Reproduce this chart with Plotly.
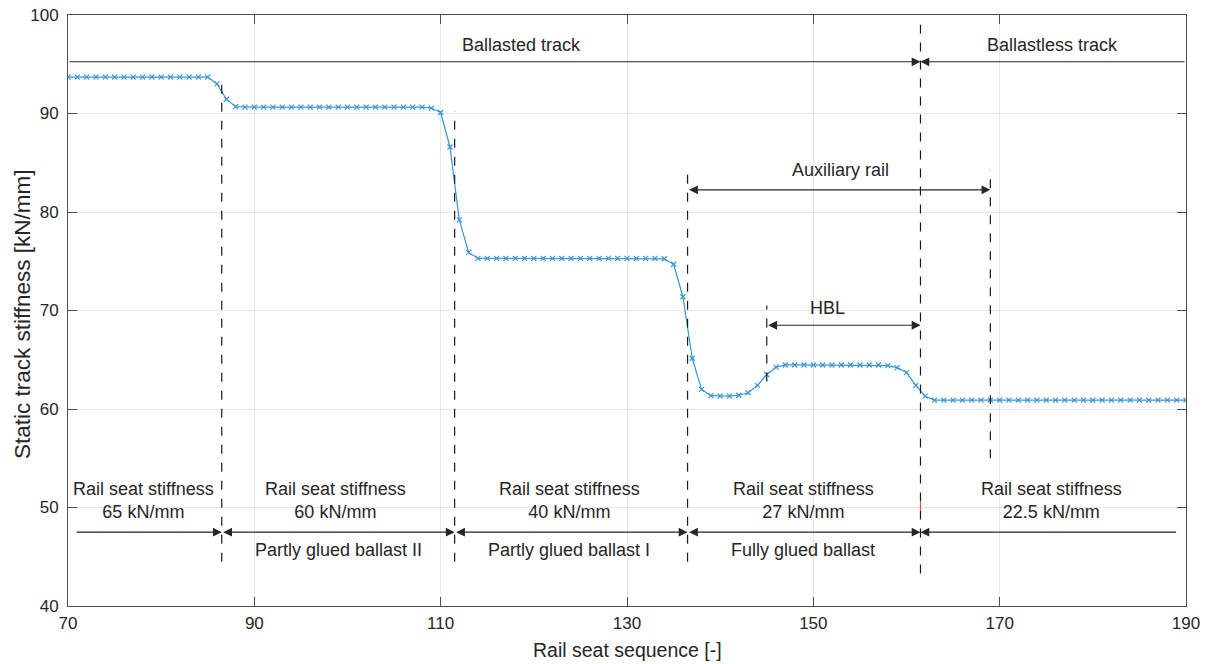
import plotly.graph_objects as go

# ---------------- data ----------------
rail_seat = list(range(70, 191))
stiffness = [
    93.7, 93.7, 93.7, 93.7, 93.7, 93.7, 93.7, 93.7, 93.7, 93.7, 93.7, 93.7, 93.7, 93.7, 93.7, 93.7,  # 70-85
    93.0, 91.45, 90.7,                                                                              # 86-88
    90.65, 90.65, 90.65, 90.65, 90.65, 90.65, 90.65, 90.65, 90.65, 90.65,                           # 89-98
    90.65, 90.65, 90.65, 90.65, 90.65, 90.65, 90.65, 90.65, 90.65, 90.65,                           # 99-108
    90.55, 90.1, 86.6, 79.2, 75.9,                                                                  # 109-113
    75.3, 75.3, 75.3, 75.3, 75.3, 75.3, 75.3, 75.3, 75.3, 75.3,                                     # 114-123
    75.3, 75.3, 75.3, 75.3, 75.3, 75.3, 75.3, 75.3, 75.3, 75.3, 75.25,                              # 124-134
    74.7, 71.4, 65.15, 62.0, 61.35, 61.3, 61.3, 61.4, 61.65, 62.4, 63.5, 64.25,                     # 135-146
    64.47, 64.47, 64.47, 64.47, 64.47, 64.47, 64.47, 64.47, 64.47, 64.47, 64.47,                    # 147-157
    64.4, 64.2, 63.7, 62.4, 61.3,                                                                   # 158-162
    60.9, 60.9, 60.9, 60.9, 60.9, 60.9, 60.9, 60.9, 60.9, 60.9,                                     # 163-172
    60.9, 60.9, 60.9, 60.9, 60.9, 60.9, 60.9, 60.9, 60.9, 60.9,                                     # 173-182
    60.9, 60.9, 60.9, 60.9, 60.9, 60.9, 60.9, 60.9,                                                 # 183-190
]

x_ticks = [70, 90, 110, 130, 150, 170, 190]
y_ticks = [40, 50, 60, 70, 80, 90, 100]

# section boundaries (dashed lines): x, y_bottom, y_top
boundary_x = [86.5, 111.5, 136.5, 161.5, 145, 169]
boundary_y0 = [44.5, 44.5, 44.5, 43.3, 62.8, 55.0]
boundary_y1 = [93.5, 90.2, 84.3, 99.0, 70.5, 84.3]

stiff_labels = ["Rail seat stiffness<br>65 kN/mm", "Rail seat stiffness<br>60 kN/mm",
                "Rail seat stiffness<br>40 kN/mm", "Rail seat stiffness<br>27 kN/mm",
                "Rail seat stiffness<br>22.5 kN/mm"]
stiff_label_x = [78.1, 98.7, 123.8, 148.9, 175.6]

ballast_labels = ["Partly glued ballast II", "Partly glued ballast I", "Fully glued ballast"]
ballast_label_x = [99.0, 123.8, 148.9]

BLUE = "#3a96d6"
TXT = "#262626"
FONT = "Arial, Liberation Sans, sans-serif"

fig = go.Figure()
fig.add_trace(go.Scatter(
    x=rail_seat, y=stiffness, mode="lines+markers",
    line=dict(color=BLUE, width=1.2),
    marker=dict(symbol="x-thin", size=5, line=dict(width=1.2, color=BLUE)),
    showlegend=False, hoverinfo="skip",
))

shapes = []
for bx, b0, b1 in zip(boundary_x, boundary_y0, boundary_y1):
    shapes.append(dict(type="line", xref="x", yref="y", x0=bx, x1=bx, y0=b0, y1=b1,
                       line=dict(color="#1a1a1a", width=1.2, dash="dash")))
# tiny red mark
shapes.append(dict(type="line", xref="x", yref="y", x0=161.5, x1=161.5, y0=49.7, y1=50.6,
                   line=dict(color="#e8542a", width=1.2)))

ann = []

def arrow(x_head, y_head, x_tail, y_tail, both=False):
    ann.append(dict(x=x_head, y=y_head, ax=x_tail, ay=y_tail, xref="x", yref="y",
                    axref="x", ayref="y", text="", showarrow=True,
                    arrowhead=2, startarrowhead=2, arrowsize=1.6, startarrowsize=1.6,
                    arrowwidth=1.1, arrowcolor="#262626",
                    arrowside="end+start" if both else "end",
                    standoff=0, startstandoff=0))

# top track-type arrows
arrow(161.5, 95.25, 70.0, 95.25)
arrow(161.5, 95.25, 190.0, 95.25)
# auxiliary rail & HBL
arrow(169, 82.25, 136.5, 82.25, both=True)
arrow(161.5, 68.5, 145, 68.5, both=True)
# bottom section arrows
arrow(86.5, 47.5, 70.75, 47.5)
arrow(111.5, 47.5, 86.5, 47.5, both=True)
arrow(136.5, 47.5, 111.5, 47.5, both=True)
arrow(161.5, 47.5, 136.5, 47.5, both=True)
arrow(161.5, 47.5, 189.1, 47.5)

def label(x, y, t):
    ann.append(dict(x=x, y=y, xref="x", yref="y", text=t, showarrow=False,
                    font=dict(family=FONT, size=18, color=TXT), align="center"))

label(118.7, 96.95, "Ballasted track")
label(175.7, 96.95, "Ballastless track")
label(152.9, 84.3, "Auxiliary rail")
label(151.5, 70.3, "HBL")
for lx, lt in zip(stiff_label_x, stiff_labels):
    label(lx, 50.7, lt)
for lx, lt in zip(ballast_label_x, ballast_labels):
    label(lx, 45.7, lt)

# axis titles (as paper annotations for precise placement)
ann.append(dict(x=0.5, y=0, xref="paper", yref="paper", yanchor="middle", yshift=-44,
                text="Rail seat sequence [-]", showarrow=False,
                font=dict(family=FONT, size=19.5, color=TXT)))
ann.append(dict(x=0, y=0.494, xref="paper", yref="paper", xanchor="center", yanchor="middle",
                xshift=-46, textangle=-90, text="Static track stiffness [kN/mm]", showarrow=False,
                font=dict(family=FONT, size=22.5, color=TXT)))

axis_common = dict(showline=True, linecolor="#4d4d4d", linewidth=1, mirror="ticks",
                   ticks="inside", ticklen=9, tickcolor="#4d4d4d", tickwidth=1,
                   showgrid=True, gridcolor="#e8e8e8", gridwidth=1, zeroline=False,
                   automargin=False, ticklabeloverflow="allow",
                   tickfont=dict(family=FONT, size=17, color=TXT))

fig.update_layout(
    width=1209, height=664,
    margin=dict(l=68, r=23, t=15, b=58),
    paper_bgcolor="white", plot_bgcolor="white",
    shapes=shapes, annotations=ann,
    xaxis=dict(range=[70, 190], tickvals=x_ticks, ticktext=[str(v) for v in x_ticks],
               ticklabelstandoff=2, **axis_common),
    yaxis=dict(range=[40, 100], tickvals=y_ticks, ticktext=[str(v) for v in y_ticks],
               ticklabelstandoff=5, **axis_common),
)

fig.write_html("out.html", config={"displayModeBar": False},
               post_script="document.body.style.margin='0px';document.body.style.overflow='hidden';")
